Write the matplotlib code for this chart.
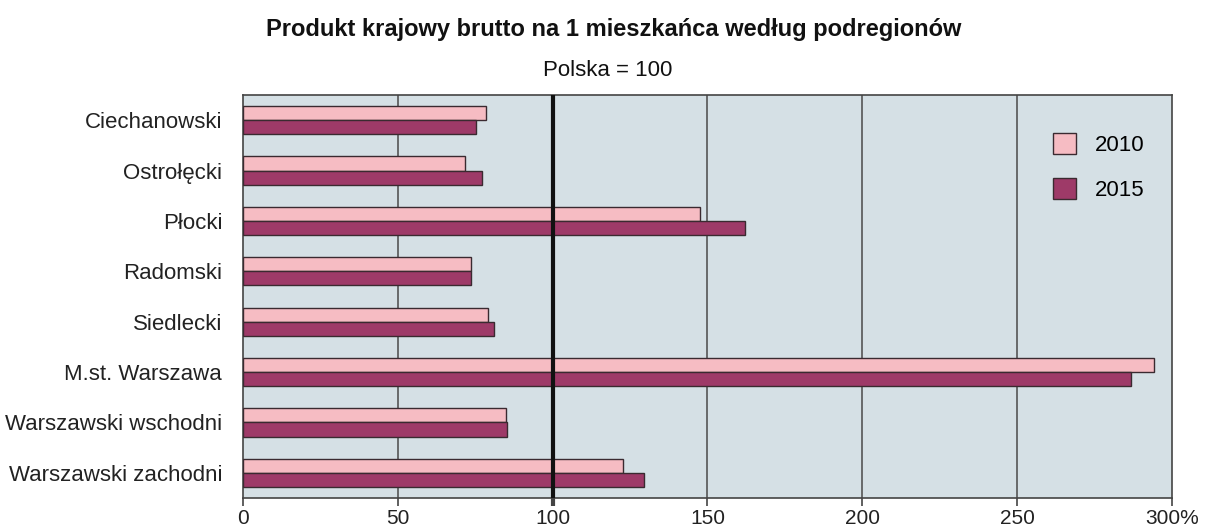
import matplotlib
matplotlib.use('Agg')
import matplotlib.pyplot as plt
import numpy as np
from matplotlib.patches import Patch

plt.rcParams['font.family'] = ['Liberation Sans', 'DejaVu Sans']

# dane
podregiony = ['Ciechanowski', 'Ostrołęcki', 'Płocki', 'Radomski', 'Siedlecki',
              'M.st. Warszawa', 'Warszawski wschodni', 'Warszawski zachodni']
pkb_2010 = [78.4, 71.7, 147.6, 73.5, 79.2, 294.3, 84.8, 122.7]
pkb_2015 = [75.1, 77.1, 162.1, 73.5, 81.0, 286.6, 85.1, 129.5]
x_ticks = [0, 50, 100, 150, 200, 250, 300]
x_labels = ['0', '50', '100', '150', '200', '250', '300%']

c_2010 = '#f6bcc3'
c_2015 = '#9e3a68'
tlo = '#d5e0e5'

fig = plt.figure(figsize=(12.1, 5.32), dpi=100)
ax = fig.add_axes([0.2008, 0.0639, 0.7678, 0.7575])
ax.set_facecolor(tlo)

y = np.arange(len(podregiony))
h = 0.28
ax.barh(y - h / 2, pkb_2010, height=h, color=c_2010, edgecolor='#3a2a30', linewidth=1, zorder=3)
ax.barh(y + h / 2, pkb_2015, height=h, color=c_2015, edgecolor='#3a2a30', linewidth=1, zorder=3)

# linie siatki
for v in [50, 150, 200, 250]:
    ax.axvline(v, color='#555555', linewidth=1.2, zorder=1)
ax.axvline(100, color='#111111', linewidth=3, zorder=4)

ax.set_xlim(0, 300)
ax.set_ylim(len(podregiony) - 0.5, -0.5)
ax.set_yticks(y)
ax.set_yticklabels(podregiony, fontsize=16, color='#222222')
ax.tick_params(axis='y', length=0, pad=15)
ax.set_xticks(x_ticks)
ax.set_xticklabels(x_labels, fontsize=15, color='#222222')
ax.tick_params(axis='x', length=6, width=1.2, color='#444444', pad=2)
ax.get_xticklines()[4].set_markeredgewidth(3)
ax.get_xticklines()[4].set_color('#111111')

for s in ax.spines.values():
    s.set_color('#444444')
    s.set_linewidth(1.2)

fig.text(0.507, 0.944, 'Produkt krajowy brutto na 1 mieszkańca według podregionów',
         ha='center', va='center', fontsize=17, fontweight='bold', color='#111111')
fig.text(0.502, 0.868, 'Polska = 100', ha='center', va='center', fontsize=16, color='#111111')

handles = [Patch(facecolor=c_2010, edgecolor='#3a2a30', label='2010'),
           Patch(facecolor=c_2015, edgecolor='#3a2a30', label='2015')]
leg = ax.legend(handles=handles, loc='upper left', bbox_to_anchor=(0.872, 0.905),
                frameon=False, fontsize=16, handlelength=1.04, handleheight=1.04,
                labelspacing=1.0, handletextpad=0.85, borderpad=0, borderaxespad=0)

fig.savefig('out.png', dpi=100)
